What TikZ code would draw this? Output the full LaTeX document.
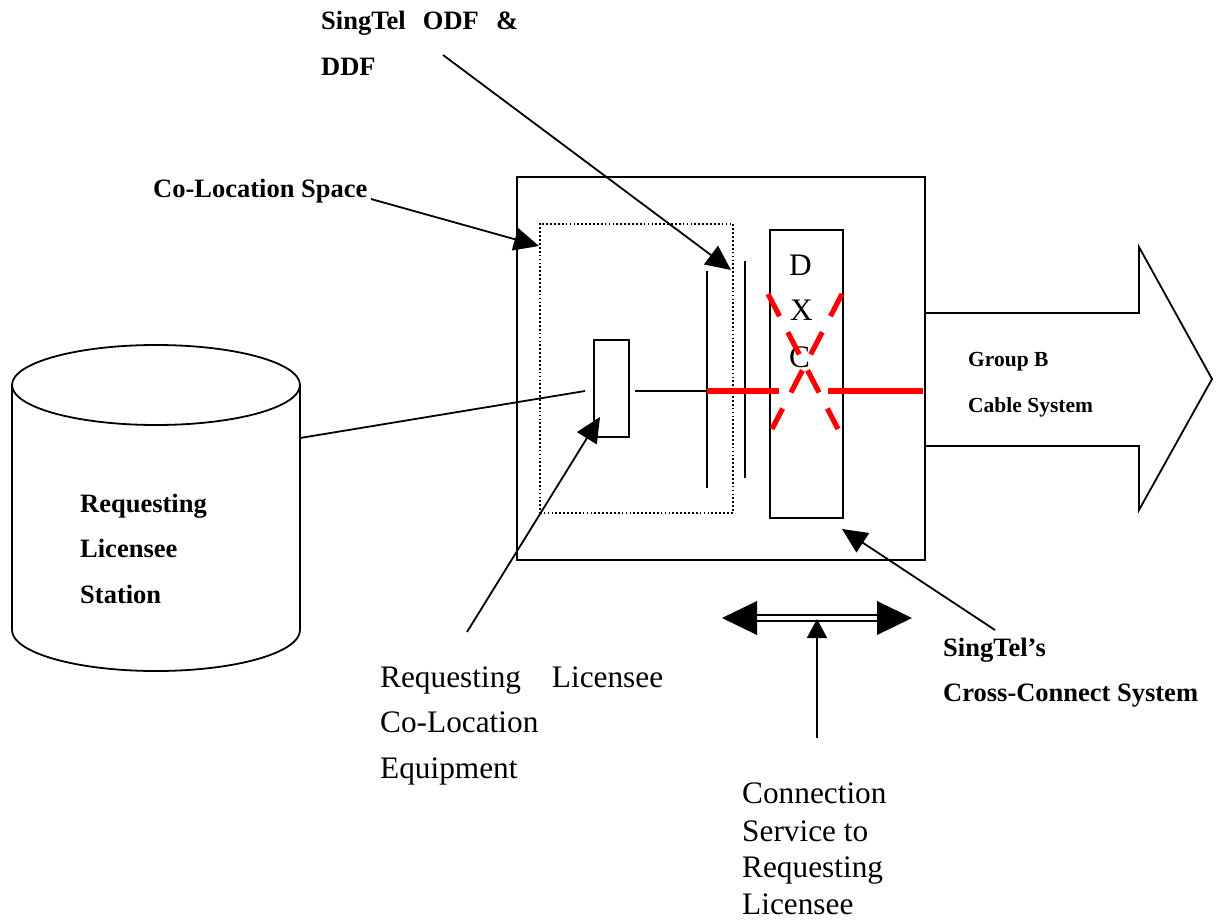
\documentclass[tikz,border=0pt]{standalone}
\usepackage{fontspec}
\setmainfont{Liberation Serif}
\usetikzlibrary{arrows.meta}
\begin{document}
\begin{tikzpicture}[x=1pt,y=-1pt,
  ln/.style={line width=1.8pt, line join=miter},
  reg/.style={font=\fontsize{31.3}{37}\selectfont, inner sep=0pt, anchor=base west},
  bld/.style={font=\fontsize{26.5}{32}\selectfont\bfseries, inner sep=0pt, anchor=base west},
  sml/.style={font=\fontsize{21.5}{26}\selectfont\bfseries, inner sep=0pt, anchor=base west},
  pointer/.style={ln, -{Triangle[length=25pt,width=23pt]}},
  redline/.style={draw=red, line width=5.8pt},
  reddash/.style={draw=red, line width=5.2pt, dash pattern=on 25pt off 18pt},
  boxshape/.style={draw, ln, inner sep=0pt, anchor=north west}
]
\useasboundingbox (0,0) rectangle (1218,921);

% cylinder (Requesting Licensee Station)
\draw[ln, fill=white] (12,385) -- (12,630) arc[start angle=180, end angle=360, x radius=144pt, y radius=41pt] -- (300,385);
\draw[ln] (156,385) ellipse [x radius=144pt, y radius=40pt];
\coordinate (cyl) at (300,438);

% outer box and co-location space
\node[boxshape, line width=2pt, minimum width=408pt, minimum height=383pt] (outer) at (516,176) {};
\node[draw, line width=1.7pt, dash pattern=on 1.7pt off 2.2pt, inner sep=0pt, anchor=north west, minimum width=193pt, minimum height=289pt] (coloc) at (539,223) {};

% equipment box
\node[boxshape, minimum width=35pt, minimum height=97pt] (equip) at (593,339) {};
% DXC box
\node[boxshape, minimum width=73pt, minimum height=288pt] (dxc) at (769,229) {};

% ODF / DDF vertical bars
\coordinate (odfA) at (707,271); \coordinate (odfB) at (707,488);
\coordinate (ddfA) at (745,261); \coordinate (ddfB) at (745,478);
\draw[ln] (odfA) -- (odfB);
\draw[ln] (ddfA) -- (ddfB);

% big arrow (Group B Cable System)
\draw[ln] (924,313) -- (1139,313) -- (1139,247) -- (1212,379) -- (1139,510) -- (1139,446) -- (924,446);

% connections
\coordinate (eqL) at (585,391);
\coordinate (eqR) at (635,391);
\coordinate (odfM) at (707,391);
\coordinate (red1) at (779,391);
\coordinate (red2) at (828,391);
\coordinate (outR) at (923,391);
\draw[ln] (cyl) -- (eqL);
\draw[ln] (eqR) -- (odfM);
\draw[redline] (odfM) -- (red1);
\draw[redline] (red2) -- (outR);

% DXC text
\node[reg] (tD) at (789,275) {D};
\node[reg] (tX) at (790,320) {X};
\node[reg] (tC) at (789,367) {C};

% red X
\coordinate (xa1) at (768,294); \coordinate (xa2) at (838,429);
\coordinate (xb1) at (842,294); \coordinate (xb2) at (772,429);
\draw[reddash] (xa1) -- (xa2);
\draw[reddash] (xb1) -- (xb2);

% labels
\node[bld] (odfl1) at (321,29) {\makebox[197pt][l]{SingTel\hfill ODF\hfill \&}};
\node[bld] (odfl2) at (321,75) {DDF};
\node[bld] (colocl) at (153,197) {Co-Location Space};
\node[bld] (stat1) at (80,512) {Requesting};
\node[bld] (stat2) at (80,557) {Licensee};
\node[bld] (stat3) at (80,603) {Station};
\node[sml] (grp1) at (968,366) {Group B};
\node[sml] (grp2) at (968,412) {Cable System};
\node[reg] (eq1) at (380,687) {\makebox[283pt][l]{Requesting\hfill Licensee}};
\node[reg] (eq2) at (380,732) {Co-Location};
\node[reg] (eq3) at (380,778) {Equipment};
\node[bld] (cc1) at (943,656) {SingTel’s};
\node[bld] (cc2) at (943,701) {Cross-Connect System};
\node[reg] (cs1) at (742,803) {Connection};
\node[reg] (cs2) at (742,841) {Service to};
\node[reg] (cs3) at (742,877) {Requesting};
\node[reg] (cs4) at (742,914) {Licensee};

% pointer arrows
\coordinate (odfStart) at (443,55);
\coordinate (odfTip) at (731,270);
\coordinate (colocStart) at (371,199);
\coordinate (colocTip) at (539,246);
\coordinate (eqStart) at (467,632);
\coordinate (eqTip) at (600,417);
\coordinate (ccStart) at (995,630);
\coordinate (ccTip) at (842,529);
\draw[pointer] (odfStart) -- (odfTip);
\draw[pointer] (colocStart) -- (colocTip);
\draw[pointer] (eqStart) -- (eqTip);
\draw[pointer] (ccStart) -- (ccTip);

% double-headed connection arrow
\coordinate (dL) at (722,618);
\coordinate (dR) at (912,618);
\coordinate (dLb) at (757,618);
\coordinate (dRb) at (877,618);
\draw[line width=1.8pt] ([yshift=-2.7pt]dLb) -- ([yshift=-2.7pt]dRb);
\draw[line width=1.8pt] ([yshift=2.7pt]dLb) -- ([yshift=2.7pt]dRb);
\fill (dL) -- ([yshift=17pt]dLb) -- ([yshift=-17pt]dLb) -- cycle;
\fill (dR) -- ([yshift=17pt]dRb) -- ([yshift=-17pt]dRb) -- cycle;
\coordinate (vStart) at (817,738);
\coordinate (vTip) at (817,619);
\draw[ln, -{Triangle[length=19pt,width=20pt]}] (vStart) -- (vTip);
\end{tikzpicture}
\end{document}
